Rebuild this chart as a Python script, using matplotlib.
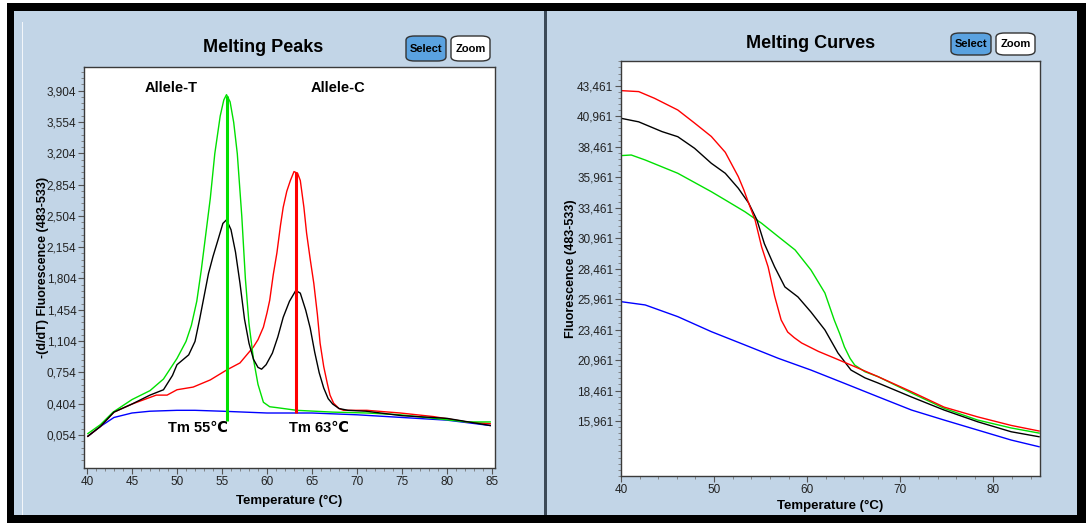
import numpy as np
import matplotlib
matplotlib.use("Agg")
import matplotlib.pyplot as plt
from matplotlib.patches import Rectangle, FancyBboxPatch
from matplotlib.ticker import FixedLocator, AutoMinorLocator

plt.rcParams['font.family'] = ['Liberation Sans', 'DejaVu Sans']

# ---- melting peaks (-dF/dT) ----
pk_green_x = [40.1, 41.5, 42.9, 45.0, 47.0, 48.5, 50.0, 51.0, 51.6, 52.2, 52.7, 53.2, 53.7, 54.2, 54.8, 55.2, 55.5, 55.9, 56.3, 56.7, 57.2, 57.6, 58.0, 58.5, 59.0, 59.6, 60.3, 61.1, 63.3, 67.3, 71.1, 74.8, 78.5, 82.2, 84.8]
pk_green_y = [0.07, 0.17, 0.31, 0.45, 0.55, 0.68, 0.91, 1.10, 1.28, 1.55, 1.90, 2.30, 2.70, 3.20, 3.62, 3.80, 3.86, 3.78, 3.55, 3.20, 2.50, 1.80, 1.30, 0.90, 0.62, 0.42, 0.37, 0.36, 0.33, 0.31, 0.30, 0.28, 0.24, 0.20, 0.20]

pk_black_x = [40.1, 41.5, 43.0, 45.0, 47.0, 48.5, 49.5, 50.0, 51.3, 52.0, 52.5, 53.0, 53.5, 54.0, 54.6, 55.1, 55.5, 56.0, 56.5, 57.0, 57.5, 58.0, 58.5, 59.0, 59.4, 59.9, 60.6, 61.2, 61.8, 62.5, 63.2, 63.7, 64.3, 64.8, 65.3, 65.8, 66.3, 66.8, 67.3, 68.0, 69.0, 71.0, 75.0, 80.0, 84.8]
pk_black_y = [0.04, 0.15, 0.31, 0.40, 0.50, 0.56, 0.72, 0.84, 0.95, 1.10, 1.34, 1.60, 1.86, 2.05, 2.25, 2.42, 2.46, 2.35, 2.10, 1.75, 1.35, 1.08, 0.90, 0.81, 0.79, 0.84, 0.97, 1.15, 1.37, 1.55, 1.67, 1.64, 1.45, 1.25, 0.98, 0.75, 0.58, 0.46, 0.40, 0.35, 0.33, 0.32, 0.27, 0.24, 0.16]

pk_red_x = [40.1, 41.5, 43.0, 45.0, 47.7, 48.9, 50.0, 51.8, 53.7, 55.5, 57.0, 58.5, 59.0, 59.6, 60.0, 60.3, 60.7, 61.1, 61.5, 61.8, 62.2, 62.6, 63.0, 63.4, 63.7, 64.1, 64.4, 64.8, 65.2, 65.6, 65.9, 66.3, 66.7, 67.0, 67.4, 68.0, 68.5, 71.1, 74.8, 78.5, 82.2, 84.8]
pk_red_y = [0.04, 0.15, 0.31, 0.40, 0.50, 0.50, 0.56, 0.59, 0.67, 0.78, 0.86, 1.04, 1.12, 1.26, 1.42, 1.56, 1.85, 2.09, 2.40, 2.60, 2.78, 2.90, 3.00, 2.98, 2.90, 2.60, 2.31, 2.02, 1.75, 1.40, 1.08, 0.82, 0.63, 0.50, 0.41, 0.35, 0.33, 0.33, 0.30, 0.26, 0.20, 0.18]

pk_blue_x = [40.1, 41.5, 43.0, 45.0, 47.0, 50.0, 52.0, 55.0, 60.0, 65.0, 70.0, 75.0, 80.0, 84.8]
pk_blue_y = [0.04, 0.15, 0.25, 0.30, 0.32, 0.33, 0.33, 0.32, 0.30, 0.30, 0.28, 0.25, 0.22, 0.16]

tm_x = [55.6, 63.2]
tm_top = [3.84, 3.00]
tm_bottom = [0.21, 0.30]
tm_labels = ["Tm 55\u2103", "Tm 63\u2103"]
allele_labels = ["Allele-T", "Allele-C"]

pk_yticks = [0.054 + 0.35 * k for k in range(12)]
pk_ylabels = ["0,054", "0,404", "0,754", "1,104", "1,454", "1,804", "2,154", "2,504", "2,854", "3,204", "3,554", "3,904"]
pk_xticks = [40, 45, 50, 55, 60, 65, 70, 75, 80, 85]

# ---- melting curves (fluorescence) ----
mc_red_x = [40.0, 41.9, 43.6, 46.1, 47.9, 49.7, 51.2, 52.6, 53.2, 53.7, 54.4, 55.1, 55.8, 56.5, 57.2, 57.9, 58.6, 59.4, 61.2, 62.9, 64.7, 67.6, 71.2, 74.7, 78.3, 81.9, 84.9]
mc_red_y = [43.06, 42.98, 42.43, 41.47, 40.40, 39.30, 38.00, 36.00, 34.90, 33.85, 32.45, 30.25, 28.60, 26.20, 24.25, 23.26, 22.80, 22.36, 21.67, 21.13, 20.55, 19.60, 18.36, 17.10, 16.30, 15.60, 15.14]

mc_black_x = [40.0, 41.9, 44.4, 46.1, 47.9, 49.7, 51.2, 52.6, 53.7, 54.6, 55.4, 56.5, 57.6, 59.0, 60.4, 61.9, 63.3, 64.7, 66.2, 67.6, 71.2, 74.7, 78.3, 81.9, 84.9]
mc_black_y = [40.79, 40.50, 39.70, 39.28, 38.33, 37.10, 36.28, 35.05, 33.85, 32.45, 30.50, 28.60, 26.96, 26.14, 24.90, 23.43, 21.54, 20.14, 19.50, 19.08, 17.93, 16.86, 15.90, 15.08, 14.67]

mc_green_x = [40.0, 41.1, 42.6, 46.1, 49.7, 51.2, 53.3, 55.1, 56.9, 58.7, 60.4, 61.9, 62.9, 63.5, 64.0, 64.6, 65.1, 66.2, 67.6, 71.2, 74.7, 78.3, 81.9, 84.9]
mc_green_y = [37.73, 37.78, 37.37, 36.28, 34.77, 34.09, 33.13, 32.18, 31.08, 29.99, 28.35, 26.46, 24.25, 23.10, 22.03, 21.10, 20.55, 20.00, 19.60, 18.26, 17.00, 16.04, 15.39, 14.97]

mc_blue_x = [40.0, 42.6, 46.1, 49.7, 53.3, 56.9, 60.4, 64.0, 67.6, 71.2, 74.7, 78.3, 81.9, 84.9]
mc_blue_y = [25.75, 25.48, 24.52, 23.29, 22.20, 21.10, 20.14, 19.05, 17.95, 16.86, 16.04, 15.22, 14.40, 13.85]

mc_yticks = [15.961 + 2.5 * k for k in range(12)]
mc_ylabels = ["15,961", "18,461", "20,961", "23,461", "25,961", "28,461", "30,961", "33,461", "35,961", "38,461", "40,961", "43,461"]
mc_xticks = [40, 50, 60, 70, 80]

W, H = 1086, 525
PANEL = "#c2d5e7"
GREEN = "#00e000"

fig = plt.figure(figsize=(W / 100, H / 100), dpi=100)
fig.patch.set_facecolor("white")


def px_rect(x0, y0, x1, y1, **kw):
    # rectangle given in pixel coords (origin top-left), drawn behind the axes
    r = Rectangle((x0 / W, 1 - y1 / H), (x1 - x0) / W, (y1 - y0) / H,
                  transform=fig.transFigure, zorder=-10, **kw)
    fig.patches.append(r)


px_rect(7, 3, 1086, 523, facecolor="black", edgecolor="none")
px_rect(14, 11, 1077, 515, facecolor=PANEL, edgecolor="none")
px_rect(21.5, 22, 23, 515, facecolor="white", edgecolor="none", alpha=0.8)
px_rect(544, 11, 546.5, 515, facecolor="#3c4a58", edgecolor="none")


def button(x0, y0, x1, y1, label, fc):
    b = FancyBboxPatch((x0 / W, 1 - y1 / H), (x1 - x0) / W, (y1 - y0) / H,
                       boxstyle="round,pad=0,rounding_size=0.008",
                       transform=fig.transFigure, facecolor=fc,
                       edgecolor="#333333", linewidth=1.0, zorder=-5)
    fig.patches.append(b)
    fig.text((x0 + x1) / 2 / W, 1 - (y0 + y1) / 2 / H, label, ha="center",
             va="center", fontsize=8, fontweight="bold", color="black")


def axes_px(x0, y0, x1, y1):
    return fig.add_axes([x0 / W, 1 - y1 / H, (x1 - x0) / W, (y1 - y0) / H])


def style(ax):
    for s in ax.spines.values():
        s.set_color("#3a3a3a")
        s.set_linewidth(1.0)
    ax.tick_params(which="major", length=4, width=0.8, color="#555555",
                   labelsize=8.5, labelcolor="#222222", pad=1.5)
    ax.tick_params(which="minor", length=2, width=0.6, color="#777777")
    ax.set_facecolor("white")


# ---------- left: melting peaks ----------
fig.text(263 / W, 1 - 47 / H, "Melting Peaks", ha="center", va="center",
         fontsize=13, fontweight="bold")
button(406, 36, 446, 61, "Select", "#5aa2e0")
button(451, 36, 490, 61, "Zoom", "white")

ax1 = axes_px(84, 67, 495, 468)
style(ax1)
ax1.plot(pk_blue_x, pk_blue_y, color="blue", lw=1.0)
ax1.plot(pk_red_x, pk_red_y, color="red", lw=1.0)
ax1.plot(pk_green_x, pk_green_y, color=GREEN, lw=1.0)
ax1.plot(pk_black_x, pk_black_y, color="black", lw=1.0)
ax1.vlines(tm_x[0], tm_bottom[0], tm_top[0], color=GREEN, lw=2.2)
ax1.vlines(tm_x[1], tm_bottom[1], tm_top[1], color="red", lw=2.2)
ax1.text(49.4, 3.93, allele_labels[0], ha="center", va="center", fontsize=10.5, fontweight="bold")
ax1.text(67.9, 3.93, allele_labels[1], ha="center", va="center", fontsize=10.5, fontweight="bold")
ax1.text(52.3, 0.13, tm_labels[0], ha="center", va="center", fontsize=10.5, fontweight="bold")
ax1.text(65.8, 0.13, tm_labels[1], ha="center", va="center", fontsize=10.5, fontweight="bold")
ax1.set_xlim(39.67, 85.33)
ax1.set_ylim(-0.315, 4.169)
ax1.yaxis.set_major_locator(FixedLocator(pk_yticks))
ax1.set_yticklabels(pk_ylabels)
ax1.yaxis.set_minor_locator(FixedLocator([0.054 + 0.07 * k for k in range(-4, 60)]))
ax1.set_xticks(pk_xticks)
ax1.xaxis.set_minor_locator(AutoMinorLocator(5))
ax1.set_xlabel("Temperature (\u00b0C)", fontsize=9.5, fontweight="bold", labelpad=5)
ax1.set_ylabel("-(d/dT) Fluorescence (483-533)", fontsize=9, fontweight="bold", labelpad=-2)

# ---------- right: melting curves ----------
fig.text(811 / W, 1 - 43 / H, "Melting Curves", ha="center", va="center",
         fontsize=13, fontweight="bold")
button(951, 33, 991, 55, "Select", "#5aa2e0")
button(996, 33, 1035, 55, "Zoom", "white")

ax2 = axes_px(621, 61, 1040, 476)
style(ax2)
ax2.plot(mc_blue_x, mc_blue_y, color="blue", lw=1.0)
ax2.plot(mc_green_x, mc_green_y, color=GREEN, lw=1.0)
ax2.plot(mc_black_x, mc_black_y, color="black", lw=1.0)
ax2.plot(mc_red_x, mc_red_y, color="red", lw=1.0)
ax2.set_xlim(40, 85)
ax2.set_ylim(11.45, 45.49)
ax2.yaxis.set_major_locator(FixedLocator(mc_yticks))
ax2.set_yticklabels(mc_ylabels)
ax2.yaxis.set_minor_locator(FixedLocator([15.961 + 0.5 * k for k in range(-9, 60)]))
ax2.set_xticks(mc_xticks)
ax2.xaxis.set_minor_locator(AutoMinorLocator(5))
ax2.set_xlabel("Temperature (\u00b0C)", fontsize=9.5, fontweight="bold", labelpad=3)
ax2.set_ylabel("Fluorescence (483-533)", fontsize=9, fontweight="bold", labelpad=0)

fig.savefig("out.png", dpi=100, facecolor="white")
